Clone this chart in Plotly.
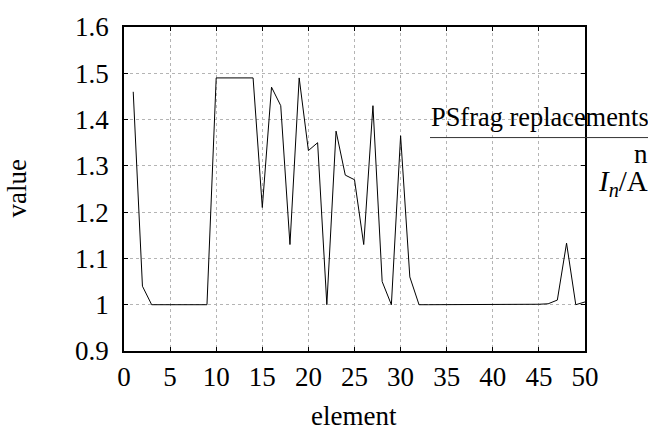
import plotly.graph_objects as go

elements = list(range(1, 51))
values = [1.46, 1.04, 1.0, 1.0, 1.0, 1.0, 1.0, 1.0, 1.0, 1.49,
          1.49, 1.49, 1.49, 1.49, 1.21, 1.47, 1.43, 1.13, 1.49, 1.333,
          1.35, 1.0, 1.375, 1.28, 1.27, 1.13, 1.43, 1.05, 1.0, 1.365,
          1.06, 1.0, 1.0, 1.0, 1.0, 1.0, 1.0, 1.0, 1.0, 1.0,
          1.0, 1.0, 1.0, 1.0, 1.001, 1.002, 1.01, 1.133, 1.0, 1.006]
x_ticks = [0, 5, 10, 15, 20, 25, 30, 35, 40, 45, 50]
y_ticks = [0.9, 1.0, 1.1, 1.2, 1.3, 1.4, 1.5, 1.6]
y_tick_labels = ["0.9", "1", "1.1", "1.2", "1.3", "1.4", "1.5", "1.6"]

FONT = "Liberation Serif"
FS = 27

fig = go.Figure()
fig.add_trace(go.Scatter(x=elements, y=values, mode="lines",
                         line=dict(color="black", width=1), showlegend=False))

axis_common = dict(showline=True, linecolor="black", linewidth=1.5, mirror="ticks",
                   ticks="inside", ticklen=4, tickcolor="black",
                   showgrid=True, gridcolor="#b4b4b4", griddash="dot", gridwidth=1,
                   zeroline=False, ticklabeloverflow="allow",
                   tickfont=dict(family=FONT, size=FS, color="black"))

fig.update_xaxes(range=[0, 50], tickvals=x_ticks, ticklabelstandoff=1, **axis_common)
fig.update_yaxes(range=[0.9, 1.6], tickvals=y_ticks, ticktext=y_tick_labels,
                 ticklabelstandoff=8, **axis_common)

W, H = 648, 432
l, r, t, b = 124, 63, 14, 81
pw, ph = W - l - r, H - t - b


def px2paper(px, py):
    return (px - l) / pw, 1 - (py - t) / ph


texts = [
    ("value", 17, 182, "center", -90, FS),
    ("element", 354, 419, "center", 0, FS),
    ("PSfrag replacements", 429, 108, "left", 0, 26.4),
    ("n", 650, 146, "right", 0, FS),
    ("<i>I</i><sub><i>n</i></sub>/A", 650, 176, "right", 0, 29),
]
annotations = []
for txt, px, py, xa, ang, fs in texts:
    ax, ay = px2paper(px, py)
    annotations.append(dict(text=txt, x=ax, y=ay, xref="paper", yref="paper",
                            showarrow=False, xanchor=xa, yanchor="middle",
                            textangle=ang, font=dict(family=FONT, size=fs, color="black")))

x0, y0 = px2paper(430, 129)
x1, _ = px2paper(648, 129)

fig.update_layout(
    width=W, height=H,
    margin=dict(l=l, r=r, t=t, b=b),
    plot_bgcolor="white", paper_bgcolor="white",
    font=dict(family=FONT, size=FS, color="black"),
    annotations=annotations,
    shapes=[dict(type="line", xref="paper", yref="paper", x0=x0, x1=x1, y0=y0, y1=y0,
                 line=dict(color="#333333", width=1))],
)

fig.write_html("out.html")
